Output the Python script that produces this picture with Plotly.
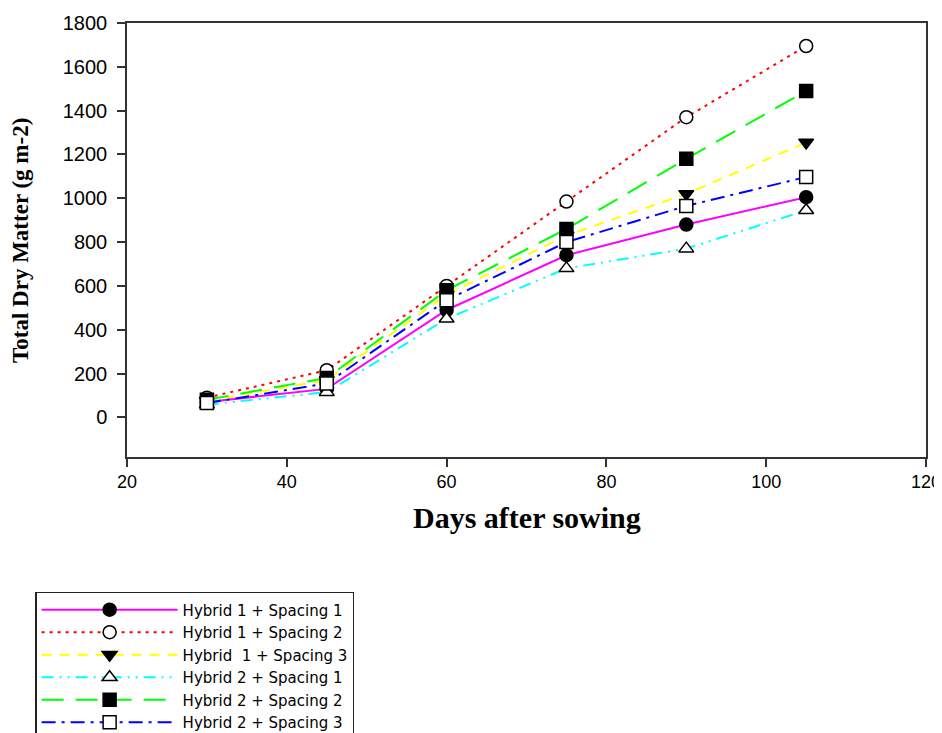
import plotly.graph_objects as go

days = [30, 45, 60, 75, 90, 105]
h1s1 = [70, 130, 490, 740, 880, 1005]
h1s2 = [90, 215, 600, 985, 1370, 1695]
h1s3 = [75, 170, 560, 830, 1020, 1255]
h2s1 = [58, 115, 450, 680, 770, 945]
h2s2 = [80, 180, 580, 860, 1180, 1490]
h2s3 = [65, 155, 535, 800, 965, 1097]

names = ["Hybrid 1 + Spacing 1", "Hybrid 1 + Spacing 2", "Hybrid\u00a0 1 + Spacing 3",
         "Hybrid 2 + Spacing 1", "Hybrid 2 + Spacing 2", "Hybrid 2 + Spacing 3"]
series = [h1s1, h1s2, h1s3, h2s1, h2s2, h2s3]
colors = ["#ff00ff", "#ff0000", "#ffff00", "#00ffff", "#00ff00", "#0000ff"]
dashes = ["solid", "3px,5px", "10px,8px", "12px,6px,2px,6px,2px,6px", "22px,12px", "14px,6px,3px,6px"]
symbols = ["circle", "circle-open", "triangle-down", "triangle-up-open", "square", "square-open"]

fig = go.Figure()
for name, ys, c, d, s in zip(names, series, colors, dashes, symbols):
    open_ = s.endswith("-open")
    fig.add_trace(go.Scatter(
        x=days, y=ys, name=name, mode="lines+markers",
        line=dict(color=c, width=2, dash=d),
        marker=dict(symbol=s.replace("-open", ""), size=13,
                    color="white" if open_ else "black",
                    line=dict(color="black", width=1.5)),
    ))

fig.update_layout(
    width=942, height=733,
    margin=dict(l=119, r=24, t=15, b=284, autoexpand=False),
    plot_bgcolor="white", paper_bgcolor="white",
    font=dict(family="Liberation Sans, Arial", size=18, color="black"),
    showlegend=True,
    legend=dict(x=-0.115, y=-0.311, xanchor="left", yanchor="top",
                bordercolor="#222", borderwidth=1.5, bgcolor="white",
                font=dict(family="DejaVu Sans", size=15),
                tracegroupgap=0, itemwidth=136),
    xaxis=dict(range=[20, 120], tickvals=[20, 40, 60, 80, 100, 120],
               showgrid=False, zeroline=False, showline=True, linecolor="#333",
               linewidth=1.5, mirror=True, ticks="outside", ticklen=8,
               tickcolor="#333", tickwidth=1.5, tickfont=dict(size=18)),
    yaxis=dict(range=[-181, 1800], tickvals=list(range(0, 1801, 200)),
               showgrid=False, zeroline=False, showline=True, linecolor="#333",
               linewidth=1.5, mirror=True, ticks="outside", ticklen=8,
               tickcolor="#333", tickwidth=1.5, tickfont=dict(size=20),
               ticklabelstandoff=6),
    annotations=[
        dict(text="<b>Days after sowing</b>", xref="paper", yref="paper",
             x=0.5, y=-0.14, xanchor="center", yanchor="middle", showarrow=False,
             font=dict(family="Liberation Serif, Times New Roman", size=30)),
        dict(text="<b>Total Dry Matter (g m-2)</b>", xref="paper", yref="paper",
             x=-0.134, y=0.5, xanchor="center", yanchor="middle", showarrow=False,
             textangle=-90,
             font=dict(family="Liberation Serif, Times New Roman", size=23)),
    ],
)

fig.write_html("out.html")
